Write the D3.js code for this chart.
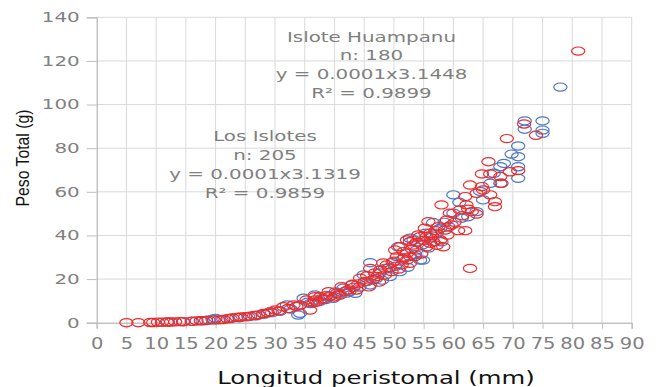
<!DOCTYPE html>
<html>
<head>
<meta charset="utf-8">
<script src="https://cdn.jsdelivr.net/npm/d3@7/dist/d3.min.js"></script>
<style>
  body { margin: 0; background: #fff; }
  text { font-family: "DejaVu Sans", sans-serif; }
</style>
</head>
<body>
<script>
// Islote Huampanu (blue)
const huampanu = [
  [12, 0.3], [14.5, 0.4], [16, 0.7], [17.8, 0.9], [18.8, 1.2], [19.5, 1.6], [20, 2], [21, 1.4],
  [22.5, 1.9], [24, 2.3], [25.5, 2.8], [26.8, 3.2], [28.2, 3.9], [29.5, 4.6], [30.8, 5.2], [32, 8.1],
  [32.6, 6.3], [33.9, 3.5], [34.2, 4.3], [34.8, 11.2], [35.5, 9.4], [36, 8.8], [36.7, 12.7],
  [37.5, 9.8], [37.8, 10.9], [38.5, 10.6], [39, 11.8], [39.8, 11.2], [40.2, 14.1], [40.6, 12.8],
  [41.5, 15.8], [42, 13.6], [42.5, 14.2], [43, 17.6], [43.5, 13.5], [44.2, 16.3], [44.9, 21.9],
  [45.4, 18.9], [46, 17.3], [46, 27.5], [47, 20.2], [47.6, 22.8], [48, 19.5], [48.5, 24.9],
  [49.3, 21.1], [49.8, 27.6], [50.2, 25.8], [50.7, 34.8], [51, 23.4], [51.5, 29.2], [52.3, 25.4],
  [52.7, 30.3], [52.7, 38.7], [53.3, 37.9], [53.6, 31.2], [53.8, 33.3], [54.4, 28.7], [54.7, 35.6],
  [54.9, 28.7], [55.3, 41], [55.8, 34.2], [56.2, 38.9], [56.6, 45.9], [57.2, 41], [57.8, 43.3],
  [58, 37.1], [58.5, 46], [59.2, 44], [60, 58.6], [60, 50.2], [61, 55.2], [61.4, 47.9], [62.5, 48.6],
  [63.9, 50.9], [64.5, 60.2], [65, 56.3], [66.2, 63.9], [66.8, 68.5], [67.9, 71.5], [67.9, 63.9],
  [68.5, 73], [69.8, 77.3], [70.9, 81], [70.9, 76.1], [70.9, 71.5], [70.9, 66.2], [72, 92.5],
  [72, 88.7], [75, 92.5], [75, 88.3], [75, 86.8], [78, 108]
];

// Los Islotes (red)
const islotes = [
  [5, 0], [7, 0], [9, 0.1], [9.5, 0.1], [10.3, 0.2], [11, 0.2], [11.8, 0.3], [12.5, 0.3], [13.2, 0.4],
  [14, 0.5], [14.6, 0.5], [16, 0.6], [16.8, 0.8], [17.5, 0.9], [18.4, 1], [19.7, 1.2], [20.5, 1.3],
  [21.3, 1.5], [22, 1.8], [22.8, 2.2], [23.5, 2.4], [24.2, 2.6], [25, 2.7], [25.8, 3], [26.5, 3.3],
  [27.2, 3.6], [28, 4.2], [28.8, 4.5], [29.2, 5], [30, 5.8], [30.6, 5.4], [31.4, 7.3], [32.2, 6.5],
  [33.1, 8.1], [33.6, 7.4], [34.2, 8.1], [35.3, 10.4], [35.9, 5.8], [36.5, 9.2], [36.7, 10.4],
  [36.7, 11.9], [37, 9.5], [37.6, 11.9], [38.2, 10.8], [38.6, 12.4], [39, 14.2], [39.3, 12.2],
  [40, 11.8], [40.4, 13.5], [40.9, 12.6], [41.2, 16.5], [41.8, 14.4], [42.3, 15], [42.9, 17.3],
  [43.2, 16.2], [43.7, 15], [44, 17.8], [44.3, 20.4], [45.1, 18.8], [45.5, 21.5], [45.8, 16.4],
  [46, 24.9], [46.5, 19.8], [46.8, 22.8], [47.2, 21.2], [47.5, 18.6], [47.7, 24.2], [48.2, 27.4],
  [48.5, 21.9], [48.8, 26.5], [49.2, 25.2], [49.6, 23.4], [50, 28.2], [50.2, 33.3], [50.5, 30.3],
  [50.8, 24.6], [51, 34.8], [51.3, 26.5], [51.6, 32.6], [51.8, 29.8], [52.2, 28.7], [52.2, 31.8],
  [52.2, 37.9], [52.7, 27.2], [52.7, 37.1], [53, 33.8], [53.3, 35.6], [53.5, 30.3], [53.8, 36.8],
  [54.1, 40.2], [54.4, 39.4], [54.6, 31.5], [55, 37.8], [55.2, 43.3], [55.5, 34.8], [55.5, 39.4],
  [55.8, 46.3], [56.1, 36.4], [56.1, 41], [56.4, 39.8], [56.6, 37.1], [57, 42.2], [57.2, 35.5],
  [57.5, 44], [57.8, 37.9], [58, 54], [58.3, 34.8], [58.6, 42.5], [58.9, 47.1], [59, 40.2],
  [59.4, 50.2], [59.7, 44.8], [60.2, 46], [60.8, 42.2], [61.1, 51.7], [61.5, 49], [62, 42.2],
  [62, 57.8], [62.2, 54], [62.5, 52], [62.8, 24.9], [62.8, 63.1], [63.1, 50.9], [63.9, 49.8],
  [63.9, 59.3], [64.8, 62.4], [64.8, 68.2], [65, 60.8], [65.9, 73.8], [66.2, 58.6], [66.2, 68.2],
  [67, 55.5], [67, 53.2], [67.9, 67], [68.1, 63.9], [69, 84.4], [69.5, 69.2], [70.9, 69.7],
  [71.9, 91.1], [73.9, 85.9], [81, 124.5]
];

const xTicks = [0, 5, 10, 15, 20, 25, 30, 35, 40, 45, 50, 55, 60, 65, 70, 75, 80, 85, 90];
const yTicks = [0, 20, 40, 60, 80, 100, 120, 140];

const huampanuNote = ["Islote Huampanu", "n: 180", "y = 0.0001x3.1448", "R² = 0.9899"];
const islotesNote = ["Los Islotes", "n: 205", "y = 0.0001x3.1319", "R² = 0.9859"];

const width = 658, height = 387;
const margin = { top: 17.3, right: 26.3, bottom: 64.3, left: 96.7 };
const w = width - margin.left - margin.right;
const h = height - margin.top - margin.bottom;
const SX = 1.45; // the original picture is stretched sideways

// stretch text horizontally to the reference's width
function stretch(sel, k) {
  sel.each(function () {
    const len = this.getComputedTextLength();
    d3.select(this).attr("textLength", len * k).attr("lengthAdjust", "spacingAndGlyphs");
  });
}

const svg = d3.select("body").append("svg")
  .attr("width", width)
  .attr("height", height);

const g = svg.append("g")
  .attr("transform", `translate(${margin.left},${margin.top})`);

const x = d3.scaleLinear().domain([0, 90]).range([0, w]);
const y = d3.scaleLinear().domain([0, 140]).range([h, 0]);

// grid
g.append("g")
  .selectAll("line.hgrid")
  .data(yTicks.slice(1))
  .enter()
  .append("line")
  .attr("x1", 0).attr("x2", w)
  .attr("y1", d => y(d)).attr("y2", d => y(d))
  .attr("stroke", "#d9d9d9");

g.append("g")
  .selectAll("line.vgrid")
  .data(xTicks.slice(1))
  .enter()
  .append("line")
  .attr("x1", d => x(d)).attr("x2", d => x(d))
  .attr("y1", 0).attr("y2", h)
  .attr("stroke", "#d9d9d9");

// axes
const yAxis = g.append("g")
  .call(d3.axisLeft(y).tickValues(yTicks).tickSize(10).tickPadding(7));
yAxis.select(".domain").attr("stroke", "#a6a6a6");
yAxis.selectAll(".tick line").attr("stroke", "#bfbfbf");
yAxis.selectAll("text")
  .attr("fill", "#808080")
  .style("font-size", "13.7px")
  .call(stretch, SX);

const xAxis = g.append("g")
  .attr("transform", `translate(0,${h})`)
  .call(d3.axisBottom(x).tickValues(xTicks).tickSize(6).tickPadding(10));
xAxis.select(".domain").attr("stroke", "#a6a6a6");
xAxis.selectAll(".tick line").attr("stroke", "#bfbfbf");
xAxis.selectAll("text")
  .attr("fill", "#808080")
  .style("font-size", "15px")
  .call(stretch, 1.3);

// points
function drawSeries(data, color) {
  g.append("g")
    .selectAll("ellipse")
    .data(data)
    .enter()
    .append("ellipse")
    .attr("cx", d => x(d[0]))
    .attr("cy", d => y(d[1]))
    .attr("rx", 6.6)
    .attr("ry", 4.1)
    .attr("fill", "none")
    .attr("stroke", color)
    .attr("stroke-width", 1.2);
}
drawSeries(huampanu, "#4a78c6");
drawSeries(islotes, "#ee2b2b");

// annotations
function note(lines, cx, top) {
  svg.append("g")
    .selectAll("text")
    .data(lines)
    .enter()
    .append("text")
    .attr("x", cx)
    .attr("y", (d, i) => top + i * 18.9)
    .attr("text-anchor", "middle")
    .attr("fill", "#7f7f7f")
    .style("font-size", "13.7px")
    .text(d => d)
    .call(stretch, SX);
}
note(huampanuNote, 371.5, 41.5);
note(islotesNote, 265, 141);

// axis titles
svg.append("text")
  .attr("x", 376)
  .attr("y", 384)
  .attr("text-anchor", "middle")
  .attr("fill", "#111")
  .style("font-size", "16.8px")
  .text("Longitud peristomal (mm)")
  .call(stretch, SX);

svg.append("text")
  .attr("transform", "translate(29,158) rotate(-90)")
  .attr("text-anchor", "middle")
  .attr("fill", "#111")
  .style("font-family", "'Liberation Sans Narrow', 'Liberation Sans', sans-serif")
  .style("font-size", "18px")
  .attr("textLength", 97)
  .attr("lengthAdjust", "spacingAndGlyphs")
  .text("Peso Total (g)");
</script>
</body>
</html>
